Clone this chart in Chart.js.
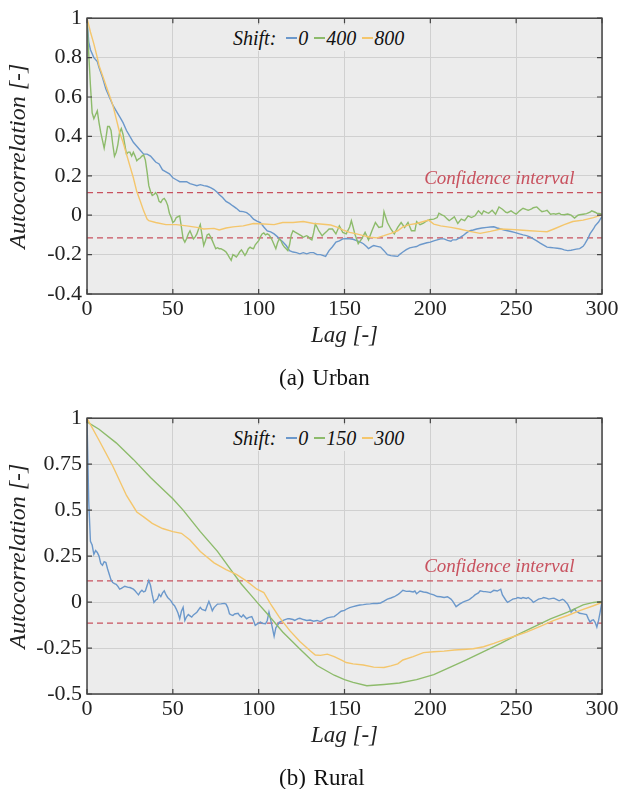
<!DOCTYPE html>
<html>
<head>
<meta charset="utf-8">
<script src="https://cdn.jsdelivr.net/npm/chart.js@4/dist/chart.umd.min.js"></script>
<style>
  html, body { margin: 0; padding: 0; background: #fff; }
  #wrap { position: relative; width: 629px; height: 789px; overflow: hidden; }
  canvas { position: absolute; left: 0; }
  .legend { position: absolute; height: 26px; background: #ececec; display: flex; align-items: center;
            font-family: 'Liberation Serif', serif; font-style: italic; font-size: 20px; color: #111; padding: 0 6px; white-space: nowrap; }
  .legend .sw { display: inline-block; width: 11px; height: 1.5px; margin-left: 6px; margin-right: 1px; }
  .legend .sw.first { margin-left: 10px; }
  .caption { position: absolute; font-family: 'Liberation Serif', serif; font-size: 23px; line-height: 26px; color: #111; white-space: nowrap; word-spacing: 2px; }
</style>
</head>
<body>
<div id="wrap">
  <canvas id="urban" width="629" height="400" style="top:0px"></canvas>
  <canvas id="rural" width="629" height="400" style="top:400px"></canvas>
</div>
<script>
// ---------------- DATA ----------------
const xTicks = [0, 50, 100, 150, 200, 250, 300];
const xTickLabels = ['0', '50', '100', '150', '200', '250', '300'];
const urbanYTicks = [-0.4, -0.2, 0, 0.2, 0.4, 0.6, 0.8, 1];
const urbanYTickLabels = ['-0.4', '-0.2', '0', '0.2', '0.4', '0.6', '0.8', '1'];
const ruralYTicks = [-0.5, -0.25, 0, 0.25, 0.5, 0.75, 1];
const ruralYTickLabels = ['-0.5', '-0.25', '0', '0.25', '0.5', '0.75', '1'];
const confidence = 0.115;
const urbanShifts = ['0', '400', '800'];
const ruralShifts = ['0', '150', '300'];
const captions = ['(a) Urban', '(b) Rural'];

// [lag, autocorrelation]
const urbanShift0 = [[0,1.0],[1,0.88],[2,0.84],[4,0.80],[6,0.78],[7,0.75],[9,0.70],[11,0.64],[13,0.60],[15,0.56],[17,0.53],[19,0.50],[21,0.47],[23,0.43],[25,0.40],[27,0.37],[29,0.35],[31,0.33],[33,0.31],[35,0.31],[37,0.30],[39,0.28],[40,0.27],[42,0.26],[44,0.23],[46,0.22],[48,0.21],[50,0.19],[52,0.18],[54,0.17],[56,0.17],[58,0.17],[60,0.16],[62,0.155],[64,0.15],[66,0.155],[68,0.15],[70,0.147],[72,0.14],[74,0.13],[76,0.115],[77,0.105],[79,0.09],[81,0.07],[83,0.06],[85,0.047],[87,0.035],[89,0.02],[91,0.018],[93,0.013],[95,0.0],[97,-0.02],[99,-0.03],[101,-0.037],[103,-0.06],[105,-0.08],[107,-0.085],[109,-0.095],[111,-0.11],[112,-0.12],[114,-0.135],[116,-0.154],[118,-0.18],[120,-0.187],[122,-0.19],[124,-0.196],[126,-0.19],[128,-0.196],[130,-0.19],[132,-0.19],[134,-0.2],[136,-0.2],[139,-0.209],[141,-0.18],[143,-0.16],[145,-0.137],[147,-0.13],[149,-0.12],[151,-0.118],[153,-0.12],[155,-0.122],[157,-0.129],[159,-0.135],[161,-0.145],[163,-0.16],[164,-0.17],[166,-0.158],[167,-0.154],[169,-0.158],[171,-0.162],[173,-0.18],[175,-0.2],[177,-0.205],[179,-0.207],[181,-0.209],[182,-0.2],[184,-0.187],[186,-0.175],[188,-0.166],[190,-0.162],[192,-0.159],[194,-0.15],[196,-0.145],[198,-0.14],[200,-0.137],[202,-0.13],[204,-0.125],[206,-0.12],[208,-0.12],[210,-0.128],[212,-0.132],[213,-0.125],[215,-0.125],[217,-0.115],[219,-0.104],[221,-0.09],[223,-0.079],[225,-0.075],[227,-0.07],[230,-0.065],[233,-0.062],[235,-0.06],[237,-0.059],[239,-0.065],[241,-0.07],[243,-0.075],[245,-0.079],[247,-0.083],[249,-0.087],[251,-0.092],[252,-0.095],[254,-0.1],[256,-0.104],[258,-0.11],[260,-0.12],[262,-0.13],[264,-0.142],[266,-0.152],[268,-0.162],[270,-0.164],[272,-0.166],[274,-0.168],[276,-0.17],[278,-0.176],[280,-0.18],[282,-0.178],[283,-0.176],[285,-0.172],[287,-0.17],[289,-0.158],[290,-0.145],[292,-0.115],[293,-0.095],[295,-0.07],[296,-0.054],[298,-0.035],[299,-0.02],[300,-0.008]];

const urbanShift400 = [[0,0.98],[1,0.82],[2,0.66],[3,0.52],[4,0.49],[5,0.51],[6,0.53],[7,0.47],[8,0.42],[10,0.34],[11,0.39],[12,0.45],[13,0.45],[14,0.43],[15,0.36],[16,0.30],[17,0.32],[18,0.36],[19,0.42],[20,0.44],[21,0.41],[22,0.36],[23,0.31],[24,0.32],[25,0.32],[26,0.30],[27,0.32],[28,0.30],[29,0.276],[30,0.285],[31,0.29],[32,0.30],[33,0.306],[34,0.28],[35,0.22],[36,0.15],[37,0.12],[38,0.10],[39,0.105],[40,0.114],[41,0.10],[42,0.07],[43,0.064],[44,0.08],[45,0.085],[46,0.072],[47,0.05],[48,0.01],[49,-0.01],[50,-0.037],[51,-0.03],[52,-0.012],[54,-0.003],[55,-0.06],[56,-0.12],[57,-0.137],[58,-0.12],[59,-0.095],[60,-0.079],[61,-0.1],[62,-0.12],[63,-0.11],[64,-0.095],[65,-0.07],[66,-0.048],[67,-0.1],[68,-0.154],[69,-0.13],[70,-0.1],[71,-0.095],[72,-0.11],[73,-0.129],[74,-0.15],[75,-0.17],[76,-0.165],[77,-0.17],[78,-0.17],[80,-0.18],[81,-0.187],[82,-0.2],[83,-0.215],[84,-0.229],[85,-0.2],[86,-0.205],[87,-0.212],[88,-0.2],[89,-0.185],[90,-0.176],[91,-0.19],[92,-0.204],[93,-0.19],[94,-0.17],[95,-0.162],[96,-0.168],[97,-0.17],[98,-0.15],[100,-0.129],[101,-0.11],[102,-0.095],[103,-0.09],[104,-0.1],[105,-0.095],[106,-0.1],[107,-0.112],[108,-0.13],[109,-0.15],[110,-0.17],[111,-0.14],[112,-0.12],[113,-0.13],[114,-0.15],[115,-0.162],[116,-0.17],[117,-0.18],[118,-0.15],[119,-0.1],[120,-0.079],[121,-0.085],[122,-0.09],[123,-0.095],[124,-0.1],[125,-0.105],[126,-0.112],[127,-0.108],[128,-0.104],[129,-0.11],[130,-0.12],[131,-0.125],[132,-0.09],[133,-0.045],[134,-0.06],[135,-0.079],[137,-0.105],[138,-0.095],[140,-0.079],[141,-0.07],[143,-0.07],[145,-0.095],[147,-0.054],[149,-0.087],[151,-0.095],[153,-0.06],[154,-0.028],[155,-0.06],[156,-0.095],[157,-0.12],[158,-0.145],[160,-0.12],[162,-0.087],[164,-0.125],[166,-0.079],[168,-0.037],[170,-0.062],[172,-0.058],[173,0.018],[174,-0.01],[175,-0.037],[177,-0.07],[179,-0.095],[181,-0.062],[183,-0.037],[185,-0.062],[187,-0.037],[189,-0.079],[191,-0.079],[192,-0.032],[194,-0.048],[196,-0.04],[198,-0.028],[200,-0.022],[202,-0.02],[204,-0.012],[205,0.01],[207,0.0],[208,-0.003],[210,-0.02],[211,-0.028],[213,-0.015],[214,-0.008],[216,-0.042],[218,-0.02],[220,-0.028],[222,-0.003],[224,-0.012],[226,-0.003],[228,0.022],[230,0.005],[231,0.022],[233,0.013],[234,0.01],[236,0.025],[238,0.005],[240,0.042],[242,0.03],[244,0.015],[245,0.013],[247,0.022],[249,0.01],[250,0.005],[252,0.022],[254,0.035],[256,0.028],[257,0.025],[259,0.032],[260,0.038],[262,0.042],[264,0.025],[265,0.018],[267,0.022],[268,0.025],[270,0.005],[272,0.008],[273,0.005],[275,0.01],[276,0.004],[278,0.002],[280,0.006],[282,0.0],[284,-0.015],[286,0.0],[287,0.002],[289,0.005],[291,0.008],[293,0.015],[294,0.022],[296,0.015],[297,0.01],[299,0.008],[300,0.005]];

const urbanShift800 = [[0,1.0],[2,0.93],[4,0.87],[6,0.80],[7,0.76],[9,0.71],[11,0.66],[13,0.61],[15,0.56],[17,0.49],[19,0.42],[21,0.37],[23,0.31],[25,0.25],[27,0.19],[29,0.12],[31,0.072],[33,0.022],[35,-0.02],[36,-0.028],[40,-0.037],[46,-0.048],[52,-0.048],[58,-0.054],[64,-0.062],[68,-0.07],[74,-0.067],[77,-0.075],[81,-0.065],[85,-0.059],[91,-0.054],[97,-0.042],[103,-0.045],[109,-0.048],[114,-0.037],[120,-0.037],[126,-0.032],[132,-0.042],[136,-0.045],[142,-0.05],[146,-0.062],[149,-0.075],[153,-0.087],[157,-0.095],[161,-0.104],[165,-0.112],[169,-0.115],[173,-0.104],[177,-0.092],[181,-0.079],[184,-0.059],[188,-0.048],[192,-0.042],[196,-0.032],[199,-0.025],[202,-0.045],[206,-0.054],[212,-0.062],[217,-0.07],[223,-0.082],[229,-0.092],[235,-0.082],[241,-0.07],[247,-0.072],[252,-0.075],[258,-0.079],[264,-0.082],[268,-0.084],[272,-0.07],[278,-0.048],[283,-0.032],[289,-0.025],[295,-0.012],[300,0.002]];

const ruralShift0 = [[0,1.0],[1,0.55],[2,0.33],[3,0.31],[4,0.26],[5,0.28],[6,0.27],[7,0.25],[8,0.21],[9,0.20],[10,0.22],[11,0.215],[12,0.18],[13,0.15],[14,0.12],[15,0.106],[16,0.10],[17,0.097],[18,0.085],[19,0.07],[20,0.075],[22,0.086],[24,0.08],[25,0.079],[27,0.07],[28,0.061],[29,0.05],[30,0.039],[31,0.055],[32,0.064],[33,0.055],[34,0.06],[35,0.09],[36,0.118],[37,0.09],[38,0.04],[39,-0.002],[40,0.01],[41,0.016],[42,0.043],[43,0.03],[44,0.05],[45,0.061],[46,0.04],[47,0.025],[48,0.016],[49,0.005],[50,-0.011],[51,-0.02],[52,-0.038],[53,-0.06],[54,-0.091],[55,-0.05],[56,-0.029],[57,-0.1],[58,-0.08],[59,-0.068],[60,-0.075],[61,-0.082],[62,-0.07],[64,-0.055],[66,-0.029],[67,-0.04],[69,-0.047],[70,-0.02],[71,0.004],[72,-0.02],[73,-0.047],[74,-0.03],[76,-0.011],[78,-0.01],[80,-0.007],[81,-0.011],[82,-0.03],[83,-0.064],[84,-0.07],[85,-0.073],[86,-0.065],[88,-0.061],[89,-0.075],[90,-0.082],[91,-0.07],[93,-0.091],[94,-0.085],[96,-0.079],[97,-0.1],[98,-0.127],[99,-0.12],[101,-0.109],[102,-0.115],[104,-0.118],[105,-0.1],[106,-0.055],[107,-0.095],[108,-0.14],[109,-0.186],[110,-0.14],[111,-0.127],[112,-0.11],[113,-0.105],[115,-0.097],[117,-0.09],[118,-0.091],[120,-0.095],[121,-0.1],[123,-0.09],[124,-0.088],[126,-0.095],[128,-0.1],[130,-0.098],[132,-0.104],[134,-0.1],[136,-0.106],[138,-0.095],[140,-0.086],[142,-0.082],[144,-0.079],[146,-0.065],[148,-0.05],[150,-0.045],[151,-0.039],[153,-0.03],[155,-0.025],[157,-0.02],[159,-0.016],[161,-0.014],[163,-0.011],[165,-0.01],[167,-0.007],[169,-0.008],[171,-0.005],[173,0.005],[175,0.016],[177,0.022],[179,0.029],[181,0.04],[182,0.047],[184,0.064],[186,0.058],[188,0.059],[190,0.055],[191,0.06],[192,0.045],[194,0.06],[196,0.055],[198,0.052],[200,0.045],[202,0.039],[204,0.03],[206,0.029],[208,0.025],[210,0.029],[212,0.016],[213,0.005],[214,-0.01],[215,-0.025],[217,-0.011],[219,0.0],[220,0.004],[222,0.01],[223,0.016],[225,0.03],[226,0.039],[228,0.05],[229,0.061],[231,0.057],[232,0.057],[234,0.054],[235,0.052],[237,0.064],[239,0.06],[241,0.07],[242,0.039],[244,0.01],[245,-0.002],[247,0.01],[248,0.016],[250,0.02],[251,0.025],[253,0.02],[254,0.025],[256,0.02],[257,0.025],[259,0.01],[260,-0.002],[262,0.01],[263,0.016],[265,0.02],[266,0.025],[268,0.02],[269,0.016],[271,0.02],[272,0.021],[274,0.012],[275,0.007],[277,0.015],[278,0.01],[280,-0.011],[281,-0.03],[282,-0.055],[283,-0.045],[284,-0.038],[285,-0.05],[287,-0.061],[289,-0.064],[291,-0.068],[292,-0.09],[293,-0.109],[294,-0.1],[295,-0.097],[296,-0.11],[297,-0.136],[298,-0.1],[299,-0.05],[300,0.004]];

const ruralShift150 = [[0,0.98],[7,0.94],[17,0.866],[27,0.776],[37,0.678],[46,0.597],[50,0.562],[56,0.5],[66,0.383],[76,0.276],[85,0.16],[90,0.097],[95,0.043],[100,-0.011],[105,-0.064],[114,-0.163],[124,-0.255],[134,-0.345],[144,-0.398],[150,-0.422],[155,-0.437],[163,-0.455],[173,-0.448],[182,-0.44],[192,-0.422],[202,-0.395],[212,-0.352],[221,-0.315],[231,-0.27],[241,-0.225],[250,-0.181],[260,-0.136],[270,-0.091],[280,-0.055],[289,-0.015],[295,-0.002],[300,0.004]];

const ruralShift300 = [[0,1.0],[7,0.88],[15,0.74],[23,0.58],[29,0.49],[33,0.463],[38,0.428],[44,0.40],[50,0.383],[55,0.374],[60,0.338],[66,0.275],[74,0.213],[81,0.177],[87,0.15],[93,0.114],[99,0.07],[103,0.052],[107,-0.011],[112,-0.082],[118,-0.154],[124,-0.215],[130,-0.265],[133,-0.288],[136,-0.29],[140,-0.283],[144,-0.297],[148,-0.315],[151,-0.329],[155,-0.336],[161,-0.342],[167,-0.354],[173,-0.356],[177,-0.347],[181,-0.336],[184,-0.315],[190,-0.297],[196,-0.275],[202,-0.27],[208,-0.267],[214,-0.261],[219,-0.258],[225,-0.254],[231,-0.243],[237,-0.225],[243,-0.204],[249,-0.186],[256,-0.163],[264,-0.132],[272,-0.1],[280,-0.073],[287,-0.047],[295,-0.02],[300,-0.002]];

// ---------------- STYLE ----------------
const seriesColors = ['#6b98cb', '#8dbb6b', '#f4c66c'];
const ciColor = '#c8525f';
const serif = "'Liberation Serif', 'Times New Roman', serif";

const framePlugin = {
  id: 'frame',
  beforeDraw(chart) {
    const { ctx, chartArea: a } = chart;
    ctx.save();
    ctx.fillStyle = '#ececec';
    ctx.fillRect(a.left, a.top, a.right - a.left, a.bottom - a.top);
    ctx.restore();
  },
  afterDatasetsDraw(chart) {
    const { ctx, chartArea: a, scales: { x, y } } = chart;
    ctx.save();
    ctx.font = 'italic 19px ' + serif;
    ctx.fillStyle = ciColor;
    ctx.textAlign = 'right';
    ctx.textBaseline = 'alphabetic';
    ctx.fillText('Confidence interval', x.getPixelForValue(284), y.getPixelForValue(confidence) - 9);
    ctx.strokeStyle = '#444';
    ctx.lineWidth = 1.5;
    ctx.strokeRect(a.left, a.top, a.right - a.left, a.bottom - a.top);
    ctx.lineWidth = 1.2;
    ctx.beginPath();
    x.ticks.forEach(t => {
      const px = x.getPixelForValue(t.value);
      ctx.moveTo(px, a.bottom); ctx.lineTo(px, a.bottom - 5);
      ctx.moveTo(px, a.top); ctx.lineTo(px, a.top + 5);
    });
    y.ticks.forEach(t => {
      const py = y.getPixelForValue(t.value);
      ctx.moveTo(a.left, py); ctx.lineTo(a.left + 5, py);
      ctx.moveTo(a.right, py); ctx.lineTo(a.right - 5, py);
    });
    ctx.stroke();
    ctx.restore();
  }
};

function makeChart(id, series, yTicks, yLabels) {
  const datasets = series.map((s, i) => ({
    data: s.map(p => ({ x: p[0], y: p[1] })),
    borderColor: seriesColors[i], borderWidth: 1.4, order: 3 - i
  }));
  [confidence, -confidence].forEach(c => datasets.push({
    data: [{ x: 0, y: c }, { x: 300, y: c }],
    borderColor: ciColor, borderWidth: 1.3, borderDash: [6, 4], order: 10
  }));
  return new Chart(document.getElementById(id), {
    type: 'line',
    data: { datasets },
    options: {
      responsive: false, animation: false, devicePixelRatio: 1,
      layout: { padding: { left: 0, right: 27, top: 15, bottom: 50 } },
      plugins: { legend: { display: false }, tooltip: { enabled: false } },
      elements: { point: { radius: 0 }, line: { tension: 0 } },
      scales: {
        x: {
          type: 'linear', min: 0, max: 300,
          afterBuildTicks: s => { s.ticks = xTicks.map(v => ({ value: v })); },
          afterFit: s => { s.height = 56; },
          grid: { color: '#d0d0d0', drawTicks: false },
          border: { display: false },
          ticks: { padding: 2, maxRotation: 0, autoSkip: false, color: '#222',
                   font: { family: serif, size: 22 }, callback: (v, i) => xTickLabels[i] },
          title: { display: true, text: 'Lag [-]', color: '#222', padding: 0,
                   font: { family: serif, size: 23, style: 'italic' } }
        },
        y: {
          type: 'linear', min: yTicks[0], max: yTicks[yTicks.length - 1],
          afterBuildTicks: s => { s.ticks = yTicks.map(v => ({ value: v })); },
          afterFit: s => { s.width = 87; },
          grid: { color: '#d0d0d0', drawTicks: false },
          border: { display: false },
          ticks: { padding: 5, autoSkip: false, color: '#222',
                   font: { family: serif, size: 22 }, callback: (v, i) => yLabels[i] },
          title: { display: true, text: 'Autocorrelation [-]', color: '#222', padding: { top: 4 },
                   font: { family: serif, size: 24, style: 'italic' } }
        }
      }
    },
    plugins: [framePlugin]
  });
}

makeChart('urban', [urbanShift0, urbanShift400, urbanShift800], urbanYTicks, urbanYTickLabels);
makeChart('rural', [ruralShift0, ruralShift150, ruralShift300], ruralYTicks, ruralYTickLabels);

const wrap = document.getElementById('wrap');
[[urbanShifts, 0], [ruralShifts, 400]].forEach(([names, off], k) => {
  const lg = document.createElement('div');
  lg.className = 'legend';
  lg.style.left = '227px';
  lg.style.top = (25 + off) + 'px';
  let html = '<span>Shift:</span>';
  names.forEach((n, i) => {
    html += '<span class="sw' + (i === 0 ? ' first' : '') + '" style="background:' + seriesColors[i] + '"></span><span>' + n + '</span>';
  });
  lg.innerHTML = html;
  wrap.appendChild(lg);
  const cap = document.createElement('div');
  cap.className = 'caption';
  cap.style.left = '279px';
  cap.style.top = (365 + off) + 'px';
  cap.textContent = captions[k];
  wrap.appendChild(cap);
});
</script>
</body>
</html>
